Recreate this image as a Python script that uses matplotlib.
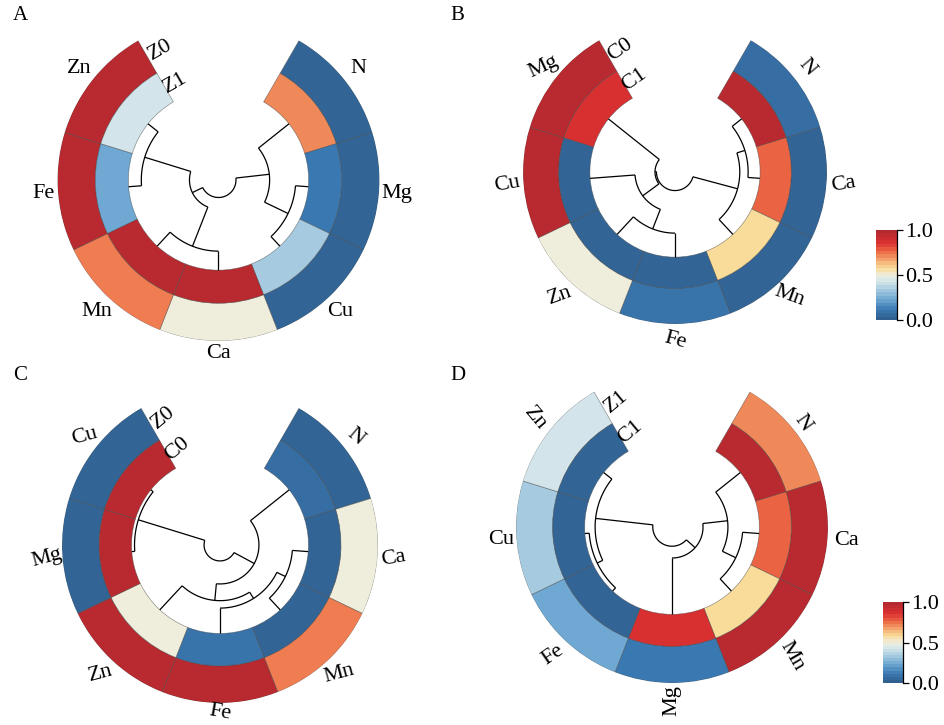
import numpy as np
import matplotlib
matplotlib.use("Agg")
import matplotlib.pyplot as plt
from matplotlib.colors import LinearSegmentedColormap, ListedColormap, Normalize
from matplotlib.cm import ScalarMappable

plt.rcParams['font.family'] = ['Liberation Serif', 'DejaVu Serif']

# ---- data -------------------------------------------------------------
elements = ['N', 'Mg', 'Cu', 'Ca', 'Mn', 'Fe', 'Zn']
Z0 = [0.02, 0.02, 0.02, 0.50, 0.74, 0.98, 0.98]
Z1 = [0.72, 0.10, 0.33, 0.98, 0.98, 0.22, 0.42]
C0 = [0.06, 0.98, 0.98, 0.02, 0.02, 0.08, 0.50]
C1 = [0.98, 0.88, 0.02, 0.78, 0.58, 0.02, 0.02]
tracks = {'Z0': Z0, 'Z1': Z1, 'C0': C0, 'C1': C1}

# leaf order of each circular dendrogram (clockwise)
order_A = ['N', 'Mg', 'Cu', 'Ca', 'Mn', 'Fe', 'Zn']
order_B = ['N', 'Ca', 'Mn', 'Fe', 'Zn', 'Cu', 'Mg']
order_C = ['N', 'Ca', 'Mn', 'Fe', 'Zn', 'Mg', 'Cu']
order_D = ['N', 'Ca', 'Mn', 'Mg', 'Fe', 'Cu', 'Zn']

# linkage rows: child a, child b, merge height (leaves 0-6 follow the order, new nodes from 7)
link_A = [[1, 2, 0.144], [5, 6, 0.144], [3, 4, 0.211], [0, 7, 0.433], [9, 8, 0.678], [10, 11, 0.806]]
link_B = [[0, 1, 0.141], [7, 2, 0.239], [3, 4, 0.282], [5, 9, 0.529], [10, 6, 0.765], [8, 11, 0.782]]
link_C = [[5, 6, 0.034], [1, 2, 0.180], [8, 3, 0.287], [9, 4, 0.371], [0, 10, 0.560], [11, 7, 0.820]]
link_D = [[4, 5, 0.050], [7, 6, 0.120], [1, 2, 0.190], [0, 9, 0.360], [10, 3, 0.645], [11, 8, 0.780]]

ticks = [0.0, 0.5, 1.0]
tick_labels = ['0.0', '0.5', '1.0']

# ---- style ------------------------------------------------------------
cmap = LinearSegmentedColormap.from_list('heat', [
    (0.00, '#30608f'), (0.10, '#3a78b2'), (0.22, '#6fa8d2'), (0.33, '#a6cbe0'),
    (0.42, '#d3e5ea'), (0.50, '#efeddd'), (0.58, '#f9dc9a'), (0.68, '#f4a46c'),
    (0.77, '#ec6a45'), (0.87, '#dc3030'), (1.00, '#b2292f')])
cbar_cmap = ListedColormap(cmap(np.linspace(0, 1, 26)))

W, H = 944, 725
HOLE, MID, OUTER = 0.56, 0.765, 1.0
START, SPAN = 30.0, 300.0
FS = 16

panels = [
    dict(tag='A', outer='Z0', inner='Z1', order=order_A, link=link_A, cx=218.5, cy=180, R=161,
         rot=[0, 0, 0, 0, 0, 0, 0], lr=[1.11, 1.11, 1.11, 1.08, 1.11, 1.09, 1.11], trot=30),
    dict(tag='B', outer='C0', inner='C1', order=order_B, link=link_B, cx=675, cy=172, R=152,
         rot=[-50, 10, -20, -15, 20, 10, 25], lr=[1.11] * 7, trot=35),
    dict(tag='C', outer='Z0', inner='C0', order=order_C, link=link_C, cx=220, cy=545, R=158,
         rot=[-40, 10, 15, -10, 15, 15, 15], lr=[1.10, 1.10, 1.11, 1.058, 1.11, 1.10, 1.10], trot=40),
    dict(tag='D', outer='Z1', inner='C1', order=order_D, link=link_D, cx=672, cy=527, R=156,
         rot=[-55, 0, -60, 90, 35, 0, -50], lr=[1.07, 1.12, 1.13, 1.11, 1.12, 1.10, 1.12], trot=40),
]
letter_pos = {'A': (13, 15), 'B': (450, 15), 'C': (13, 375), 'D': (450, 375)}

fig = plt.figure(figsize=(W / 100, H / 100), dpi=100)


def draw_panel(p):
    cx, cy, R = p['cx'], p['cy'], p['R']
    ax = fig.add_axes([(cx - R) / W, (H - cy - R) / H, 2 * R / W, 2 * R / H], projection='polar')
    ax.set_theta_zero_location('N')
    ax.set_theta_direction(-1)
    ax.set_ylim(0, OUTER)
    ax.axis('off')

    order = p['order']
    n = len(order)
    w = np.deg2rad(SPAN) / n
    theta = np.deg2rad(START) + w * (np.arange(n) + 0.5)
    v_out = [tracks[p['outer']][elements.index(e)] for e in order]
    v_in = [tracks[p['inner']][elements.index(e)] for e in order]
    ax.bar(theta, OUTER - MID, width=w, bottom=MID, color=cmap(v_out),
           edgecolor=(0.25, 0.25, 0.25, 0.55), linewidth=0.5)
    ax.bar(theta, MID - HOLE, width=w, bottom=HOLE, color=cmap(v_in),
           edgecolor=(0.25, 0.25, 0.25, 0.55), linewidth=0.5)

    # circular dendrogram: leaves sit on the inner edge of the heatmap
    pos = {i: (theta[i], HOLE) for i in range(n)}
    lk = dict(color='black', lw=0.9, solid_capstyle='butt')
    for k, (a, b, h) in enumerate(p['link']):
        r = HOLE * (1 - h)
        ta, ra = pos[a]
        tb, rb = pos[b]
        ax.plot([ta, ta], [ra, r], **lk)
        ax.plot([tb, tb], [rb, r], **lk)
        arc = np.linspace(ta, tb, 80)
        ax.plot(arc, np.full_like(arc, r), **lk)
        pos[n + k] = ((ta + tb) / 2, r)

    for t, name, rot, lr in zip(theta, order, p['rot'], p['lr']):
        ax.text(t, lr, name, rotation=rot, rotation_mode='anchor', ha='center', va='center',
                fontsize=FS, clip_on=False)
    tt = np.deg2rad(START + SPAN + 6)
    ax.text(tt, (OUTER + MID) / 2, p['outer'], rotation=p['trot'], rotation_mode='anchor',
            ha='center', va='center', fontsize=FS, clip_on=False)
    ax.text(tt, (MID + HOLE) / 2, p['inner'], rotation=p['trot'], rotation_mode='anchor',
            ha='center', va='center', fontsize=FS, clip_on=False)

    x, y = letter_pos[p['tag']]
    fig.text(x / W, 1 - y / H, p['tag'], ha='left', va='center', fontsize=15)


for p in panels:
    draw_panel(p)


def draw_colorbar(x0, y0, x1, y1):
    cax = fig.add_axes([x0 / W, (H - y1) / H, (x1 - x0) / W, (y1 - y0) / H])
    cb = fig.colorbar(ScalarMappable(norm=Normalize(0, 1), cmap=cbar_cmap), cax=cax)
    cb.outline.set_visible(False)
    cax.plot([1, 1], [0, 1], transform=cax.transAxes, color='black', lw=0.9, clip_on=False)
    cb.set_ticks(ticks)
    cb.set_ticklabels(tick_labels)
    cax.tick_params(axis='y', direction='out', length=4, width=0.9, labelsize=FS, pad=2)


draw_colorbar(876, 230, 896.5, 320)
draw_colorbar(882.5, 602, 902.5, 683)

fig.savefig('out.png', dpi=100)
